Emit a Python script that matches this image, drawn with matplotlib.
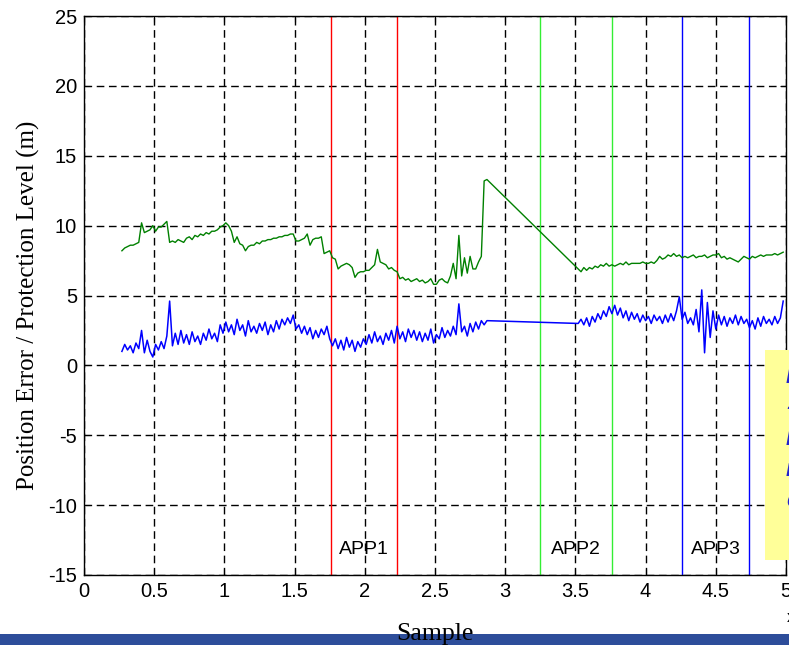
import matplotlib
matplotlib.use("Agg")
import matplotlib.pyplot as plt
import numpy as np
from matplotlib.patches import Rectangle

plt.rcParams["axes.unicode_minus"] = False

# sample index is in units of 1e4, step 0.02 between stored points
x1_start, x2_start, dx = 0.27, 3.52, 0.02

# protection level, first pass (0.27 .. 2.87)
pl_1 = [8.2, 8.4, 8.5, 8.6, 8.6, 8.7, 8.8, 10.2, 9.5, 9.6,
        9.7, 10.0, 9.6, 9.9, 9.9, 10.1, 10.3, 8.8, 8.9, 8.8,
        9.0, 8.9, 8.8, 9.1, 9.2, 9.0, 9.3, 9.2, 9.4, 9.3,
        9.5, 9.4, 9.6, 9.6, 9.7, 9.9, 10.0, 10.2, 10.0, 9.6,
        8.8, 9.2, 8.7, 8.6, 8.2, 8.5, 8.6, 8.6, 8.8, 8.7,
        8.9, 8.9, 9.0, 9.0, 9.1, 9.1, 9.2, 9.2, 9.3, 9.3,
        9.4, 9.4, 8.9, 8.9, 9.0, 9.1, 9.4, 8.6, 9.0, 9.1,
        9.1, 9.2, 8.0, 8.1, 8.2, 7.7, 7.6, 6.9, 7.1, 7.2,
        7.3, 7.2, 7.0, 6.3, 6.6, 6.7, 6.7, 6.8, 6.8, 7.0,
        7.2, 8.3, 7.4, 7.3, 7.2, 6.9, 7.0, 6.8, 6.7, 6.2,
        6.3, 6.1, 6.2, 6.0, 6.1, 6.2, 6.0, 6.1, 5.9, 6.0,
        6.2, 5.8, 5.8, 6.1, 6.2, 6.0, 5.9, 6.4, 7.3, 6.2,
        9.3, 6.4, 7.7, 6.6, 7.8, 6.9, 6.9, 7.4, 7.8, 13.2,
        13.3]
# protection level, second pass (3.52 .. 4.98)
pl_2 = [6.9, 6.7, 7.0, 6.8, 7.0, 6.9, 7.1, 7.0, 7.2, 7.1,
        7.3, 7.1, 7.2, 7.1, 7.2, 7.3, 7.2, 7.4, 7.2, 7.3,
        7.3, 7.3, 7.3, 7.4, 7.3, 7.3, 7.4, 7.3, 7.5, 7.8,
        7.6, 7.7, 7.9, 7.8, 8.0, 7.8, 7.9, 7.7, 7.8, 7.7,
        7.8, 7.9, 7.7, 7.8, 7.8, 7.9, 7.7, 7.8, 7.9, 7.9,
        8.0, 7.7, 7.8, 7.6, 7.7, 7.6, 7.5, 7.4, 7.6, 7.8,
        7.7, 7.6, 7.8, 7.7, 7.8, 7.9, 7.8, 7.9, 7.9, 7.9,
        8.0, 7.9, 8.0, 8.1]

# position error
pe_1 = [1.0, 1.5, 1.1, 1.4, 0.9, 1.6, 1.2, 2.5, 0.9, 1.8,
        1.0, 0.6, 1.5, 1.1, 1.7, 1.2, 2.1, 4.6, 1.4, 2.3,
        1.5, 2.5, 1.6, 2.2, 1.5, 2.4, 1.7, 2.1, 1.5, 2.3,
        1.8, 2.6, 1.9, 2.3, 1.7, 2.9, 2.3, 3.1, 2.4, 2.9,
        2.2, 3.3, 2.5, 2.9, 2.1, 3.2, 2.4, 2.8, 2.3, 3.0,
        2.5, 3.1, 2.2, 2.9, 2.4, 3.2, 2.6, 3.3, 2.9, 3.4,
        3.0, 3.6, 2.6, 2.9, 2.3, 2.8, 2.2, 2.7, 1.9, 2.5,
        2.0, 2.6, 2.2, 2.8, 1.9, 1.4, 1.9, 1.2, 1.8, 1.1,
        2.0, 1.3, 1.8, 1.0, 1.7, 1.3, 1.9, 1.5, 2.2, 1.6,
        2.4, 1.7, 2.1, 1.5, 2.3, 1.8, 2.5, 1.6, 2.8, 1.9,
        2.4, 1.7, 2.6, 2.0, 2.5, 1.8, 2.4, 1.7, 2.3, 1.8,
        2.6, 1.6, 2.2, 1.9, 2.7, 2.0, 2.5, 2.1, 2.8, 2.2,
        4.4, 2.4, 2.8, 2.1, 3.0, 2.4, 3.1, 2.6, 3.2, 2.9,
        3.2]
pe_2 = [3.0, 3.3, 2.9, 3.4, 2.8, 3.5, 3.1, 3.7, 3.3, 3.9,
        3.5, 4.2, 3.7, 4.3, 3.6, 4.1, 3.4, 3.9, 3.2, 3.8,
        3.3, 3.7, 3.1, 3.6, 3.2, 3.5, 3.0, 3.6, 3.2, 3.5,
        3.0, 3.6, 3.1, 3.7, 3.2, 3.9, 4.9, 3.3, 3.8, 3.0,
        3.4, 2.9, 4.0, 2.4, 5.4, 0.9, 4.5, 2.0, 3.9, 2.6,
        3.6, 2.9, 3.5, 2.8, 3.4, 3.0, 3.6, 2.9, 3.5, 3.0,
        3.3, 2.7, 3.2, 2.6, 3.4, 2.8, 3.5, 3.0, 3.3, 2.9,
        3.5, 3.0, 3.4, 4.6]

# approach windows (start, end) and their labels
app_names = ["APP1", "APP2", "APP3"]
app_bounds = [(1.76, 2.23), (3.25, 3.76), (4.26, 4.74)]
app_colors = ["#ff0000", "#33ee33", "#0000ff"]
app_label_x = [1.99, 3.50, 4.50]

x1 = x1_start + dx * np.arange(len(pl_1))
x2 = x2_start + dx * np.arange(len(pl_2))
x = np.concatenate([x1, x2])
pl = np.concatenate([pl_1, pl_2])
pe = np.concatenate([pe_1, pe_2])

fig = plt.figure(figsize=(7.89, 6.45), dpi=100)
ax = fig.add_axes([84/789, 1-575/645, 702/789, 559/645])

# slide footer bar
fig.add_artist(Rectangle((0, 0), 1, 11/645, transform=fig.transFigure,
                         facecolor="#2d4d9a", edgecolor="none", zorder=-1))

ax.plot(x, pl, color="#008000", lw=1.0, zorder=3)
ax.plot(x, pe, color="#0000ff", lw=1.1, zorder=3)

for (a, b), c, name, lx in zip(app_bounds, app_colors, app_names, app_label_x):
    ax.axvline(a, color=c, lw=1.0, zorder=2)
    ax.axvline(b, color=c, lw=1.0, zorder=2)
    ax.text(lx, -13.2, name, ha="center", va="center", fontsize=14,
            family="Liberation Sans", zorder=4)

ax.set_xlim(0, 5)
ax.set_ylim(-15, 25)
ax.set_xticks(np.arange(0, 5.01, 0.5))
ax.set_xticklabels(["%g" % v for v in np.arange(0, 5.01, 0.5)])
ax.set_yticks(np.arange(-15, 26, 5))
ax.grid(True, color="k", lw=1.0, linestyle=(0, (5.5, 3.3)), zorder=1)
ax.set_axisbelow(True)
ax.tick_params(direction="in", length=4, top=True, right=True,
               labelsize=14.5, pad=5)
for lab in ax.get_xticklabels() + ax.get_yticklabels():
    lab.set_family("Liberation Sans")
for sp in ax.spines.values():
    sp.set_linewidth(1.0)

ax.set_xlabel("Sample", family="Liberation Serif", fontsize=18.5, labelpad=16)
ax.set_ylabel("Position Error / Protection Level (m)",
              family="Liberation Serif", fontsize=18)
ax.yaxis.set_label_coords(-0.062, 0.483)

fig.text(786/789, 1-616/645, r"x 10$^4$", fontsize=12,
         family="Liberation Sans", ha="left", va="center")

# note box on the right edge
fig.add_artist(Rectangle((765/789, 1-560/645), 40/789, 210/645,
                         transform=fig.transFigure, facecolor="#ffff99",
                         edgecolor="none", zorder=5))
fig.text(786/789, 1-365/645, "Missed\n-\nHazard\nintegrity\ncount",
         fontsize=17, color="#2222cc", style="italic", weight="bold",
         family="Liberation Sans", ha="left", va="top", linespacing=1.45,
         zorder=6)

fig.savefig("out.png", dpi=100)
